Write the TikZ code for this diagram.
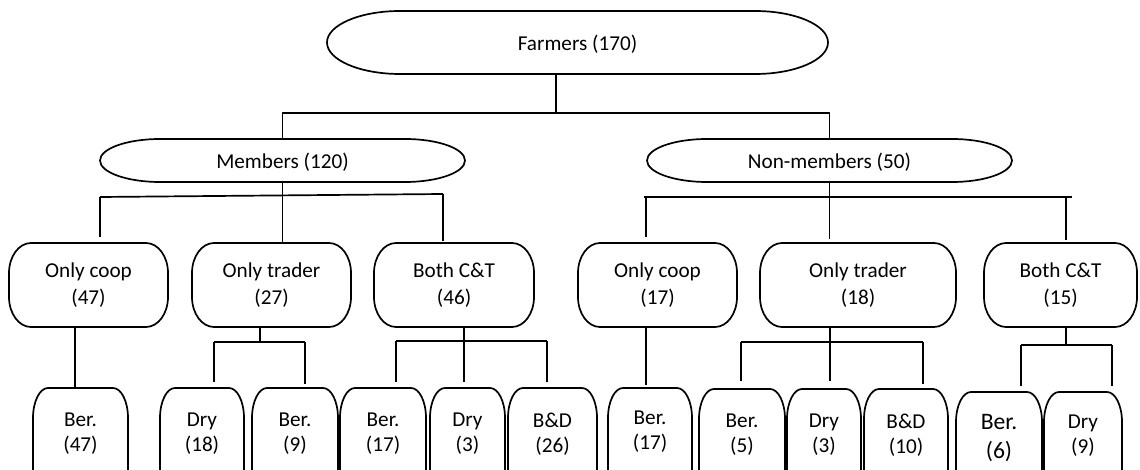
\documentclass[tikz,border=0pt]{standalone}
\usepackage{fontspec}
\setmainfont{Carlito}
\tikzset{
  boxline/.style={line width=0.85pt, black},
  conn/.style={line width=0.85pt, black},
  txt/.style={inner sep=0pt, align=center},
  topf/.style={font=\fontsize{10.6}{13}\selectfont, text height=8.6pt, text depth=0.9pt},
  midf/.style={font=\fontsize{10.6}{13.5}\selectfont},
  botf/.style={font=\fontsize{10.6}{12.5}\selectfont},
  bigf/.style={font=\fontsize{11.8}{14.3}\selectfont},
}
% full box with elliptical corners: name, x1, y1, x2, y2, rx, ry, style, text
\newcommand\capsule[9]{%
  \pgfmathsetmacro\cxA{#2+#6}%
  \pgfmathsetmacro\cxB{#4-#6}%
  \pgfmathsetmacro\cyA{#3+#7}%
  \pgfmathsetmacro\cyB{#5-#7}%
  \pgfmathsetmacro\kx{0.5523*#6}%
  \pgfmathsetmacro\ky{0.5523*#7}%
  \pgfmathsetmacro\mx{(#2+#4)/2}%
  \pgfmathsetmacro\my{(#3+#5)/2}%
  \pgfmathsetmacro\bw{(#4-#2)*0.5}%
  \pgfmathsetmacro\bh{(#5-#3)*0.5}%
  \draw[boxline] (\cxA,#3) -- (\cxB,#3)
     .. controls +(\kx,0) and +(0,-\ky) .. (#4,\cyA) -- (#4,\cyB)
     .. controls +(0,\ky) and +(\kx,0) .. (\cxB,#5) -- (\cxA,#5)
     .. controls +(-\kx,0) and +(0,\ky) .. (#2,\cyB) -- (#2,\cyA)
     .. controls +(0,-\ky) and +(-\kx,0) .. (\cxA,#3) -- cycle;
  \node[txt,#8,minimum width=\bw pt,minimum height=\bh pt] (#1) at (\mx,\my) {#9};
}
% box cut by the lower edge: name, x1, y1, x2, rx, ry, style, text-offset, text
\newcommand\cutbox[9]{%
  \pgfmathsetmacro\cxA{#2+#5}%
  \pgfmathsetmacro\cxB{#4-#5}%
  \pgfmathsetmacro\cyA{#3+#6}%
  \pgfmathsetmacro\kx{0.5523*#5}%
  \pgfmathsetmacro\ky{0.5523*#6}%
  \pgfmathsetmacro\mx{(#2+#4)/2}%
  \pgfmathsetmacro\my{#3+#8}%
  \pgfmathsetmacro\bw{(#4-#2)*0.5}%
  \draw[boxline] (#2,540) -- (#2,\cyA)
     .. controls +(0,-\ky) and +(-\kx,0) .. (\cxA,#3) -- (\cxB,#3)
     .. controls +(\kx,0) and +(0,-\ky) .. (#4,\cyA) -- (#4,540);
  \node[txt,#7,minimum width=\bw pt,minimum height=#8pt] (#1) at (\mx,\my) {#9};
}
\begin{document}
\begin{tikzpicture}[x=0.5pt,y=-0.5pt]
\useasboundingbox (0,0) rectangle (1140,470);
\clip (0,0) rectangle (1140,470);

% level 0 and 1
\capsule{F}{327}{11}{828}{74}{73}{31.5}{topf}{Farmers (170)}
\capsule{M}{100}{139}{465}{182}{60}{21.5}{topf}{Members (120)}
\capsule{N}{647}{139}{1012}{182}{60}{21.5}{topf}{Non-members (50)}

% level 2
\capsule{OCa}{9}{243}{168}{327}{22}{30}{midf}{Only coop\\(47)}
\capsule{OTa}{192}{243}{351}{327}{22}{30}{midf}{Only trader\\(27)}
\capsule{BCa}{374}{243}{534}{327}{22}{30}{midf}{Both C\&T\\(46)}
\capsule{OCb}{578}{243}{737}{327}{22}{30}{midf}{Only coop\\(17)}
\capsule{OTb}{760}{243}{956}{327}{22}{30}{midf}{Only trader\\(18)}
\capsule{BCb}{984}{243}{1137}{327}{22}{30}{midf}{Both C\&T\\(15)}

% level 3
\cutbox{BerA}{33}{388}{128}{15}{30}{botf}{46}{Ber.\\(47)}
\cutbox{DryA}{160}{388}{244}{15}{30}{botf}{46}{Dry\\(18)}
\cutbox{BerB}{252}{388}{338}{15}{30}{botf}{46}{Ber.\\(9)}
\cutbox{BerC}{340}{388}{426}{15}{30}{botf}{46}{Ber.\\(17)}
\cutbox{DryB}{430}{388}{505}{15}{30}{botf}{46}{Dry\\(3)}
\cutbox{BDA}{508}{388}{597}{15}{30}{botf}{46}{B\&D\\(26)}
\cutbox{BerD}{608}{388}{692}{15}{30}{botf}{44}{Ber.\\(17)}
\cutbox{BerE}{699}{389}{785}{15}{30}{botf}{46}{Ber.\\(5)}
\cutbox{DryC}{787}{389}{861}{15}{30}{botf}{46}{Dry\\(3)}
\cutbox{BDB}{864}{389}{948}{15}{30}{botf}{46}{B\&D\\(10)}
\cutbox{BerF}{956}{392}{1042}{15}{30}{bigf}{46}{Ber.\\(6)}
\cutbox{DryD}{1044}{392}{1122}{15}{30}{botf}{44}{Dry\\(9)}

% connectors: farmers
\coordinate (jF) at (556,113);
\draw[conn] (F.south -| jF) -- (jF);
\draw[conn] (M.north) -- (M.north |- jF) -- (N.north |- jF) -- (N.north);

% members
\coordinate (jM) at (282.5,196);
\coordinate (jMa) at (100,197);
\coordinate (jMc) at (443,194);
\draw[conn] (M.south) -- (jM);
\draw[conn] (jMa) -- (jMc);
\draw[conn, shorten >=3pt] (jMa) -- (jMa |- OCa.north);
\draw[conn] (jM) -- (jM |- OTa.north);
\draw[conn, shorten >=1pt] (jMc) -- (jMc |- BCa.north);

% non-members
\coordinate (jN) at (829.5,197);
\coordinate (jNa) at (644,197);
\coordinate (jNc) at (1072,197);
\coordinate (jNa2) at (646,197);
\coordinate (jNc2) at (1066,197);
\draw[conn] (N.south) -- (jN);
\draw[conn] (jNa) -- (jNc);
\draw[conn, shorten >=3pt] (jNa2) -- (jNa2 |- OCb.north);
\draw[conn, shorten >=2pt] (jN) -- (jN |- OTb.north);
\draw[conn, shorten >=1.5pt] (jNc2) -- (jNc2 |- BCb.north);

% only coop (members)
\coordinate (a1) at (75,327);
\draw[conn] (a1) -- (a1 |- BerA.north);

% only trader (members)
\coordinate (b0) at (260,327);
\coordinate (b1) at (260,342);
\coordinate (b2) at (214,342);
\coordinate (b3) at (305,342);
\draw[conn] (b0) -- (b1);
\draw[conn] (b2) -- (b3);
\draw[conn, shorten >=3pt] (b2) -- (b2 |- DryA.north);
\draw[conn, shorten >=2pt] (b3) -- (b3 |- BerB.north);

% both (members)
\coordinate (c0) at (464,327);
\coordinate (c2) at (396,341);
\coordinate (c3) at (547,341);
\draw[conn, shorten >=3pt] (c0) -- (c0 |- DryB.north);
\draw[conn] (c2) -- (c3);
\draw[conn, shorten >=3pt] (c2) -- (c2 |- BerC.north);
\draw[conn, shorten >=3pt] (c3) -- (c3 |- BDA.north);

% only coop (non-members)
\coordinate (d1) at (646,327);
\draw[conn, shorten >=1.5pt] (d1) -- (d1 |- BerD.north);

% only trader (non-members)
\coordinate (e0) at (830,327);
\coordinate (e2) at (741,342);
\coordinate (e3) at (923,342);
\draw[conn, shorten >=4pt] (e0) -- (e0 |- DryC.north);
\draw[conn] (e2) -- (e3);
\draw[conn, shorten >=4pt] (e2) -- (e2 |- BerE.north);
\draw[conn, shorten >=2.5pt] (e3) -- (e3 |- BDB.north);

% both (non-members)
\coordinate (f0) at (1066,327);
\coordinate (f1) at (1066,345);
\coordinate (f2) at (1021,345);
\coordinate (f3) at (1112,345);
\draw[conn] (f0) -- (f1);
\draw[conn] (f2) -- (f3);
\draw[conn, shorten >=3pt] (f2) -- (f2 |- BerF.north);
\draw[conn, shorten >=3pt] (f3) -- (f3 |- DryD.north);
\end{tikzpicture}
\end{document}
